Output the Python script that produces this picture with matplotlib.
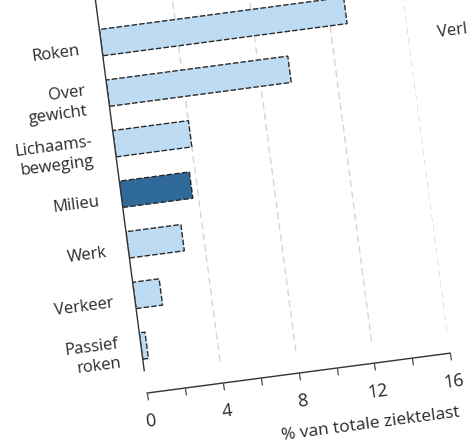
import matplotlib
matplotlib.use("Agg")
import matplotlib.pyplot as plt
from matplotlib.transforms import Affine2D
import mpl_toolkits.axisartist.floating_axes as floating_axes
from mpl_toolkits.axisartist.grid_finder import FixedLocator, DictFormatter

plt.rcParams["font.family"] = ["Open Sans", "DejaVu Sans"]

categories = ["Roken", "Over\ngewicht", "Lichaams-\nbeweging", "Milieu", "Werk", "Verkeer", "Passief\nroken"]
values = [12.9, 9.6, 4.0, 3.7, 2.9, 1.4, 0.3]
highlight = "Milieu"
x_ticks = [0, 2, 4, 6, 8, 10, 12, 14, 16]
x_ticklabels = {0: "0", 4: "4", 8: "8", 12: "12", 16: "16"}
grid_at = [4, 8, 12, 16]
xlabel = "% van totale ziektelast"

W, H = 467, 441
ANGLE = 7.5          # the photographed chart is tilted
AXIS_Y = -0.93       # offset x axis below the bars
TOP_Y = 7.3

fig = plt.figure(figsize=(W / 100, H / 100), dpi=100)

# data -> figure pixels (y up)
tr = Affine2D().scale(19.1, 51).rotate_deg(ANGLE).translate(141, 95)
grid_helper = floating_axes.GridHelperCurveLinear(
    tr,
    extremes=(0, 16, AXIS_Y, TOP_Y),
    grid_locator1=FixedLocator(x_ticks),
    tick_formatter1=DictFormatter(x_ticklabels),
    grid_locator2=FixedLocator([]),
)
ax = fig.add_axes([0, 0, 1, 1], axes_class=floating_axes.FloatingAxes, grid_helper=grid_helper)
ax.set_xlim(0, W)
ax.set_ylim(0, H)
for s in ax.spines.values():
    s.set_visible(False)
for side in ["left", "right", "top"]:
    ax.axis[side].set_visible(False)

bottom = ax.axis["bottom"]
bottom.line.set_color("#333333")
bottom.line.set_linewidth(1.0)
bottom.major_ticks.set_tick_out(True)
bottom.major_ticks.set_ticksize(5)
bottom.major_ticks.set_color("#333333")
bottom.major_ticklabels.set_fontsize(13)
bottom.major_ticklabels.set_color("#2a2a2a")
bottom.major_ticklabels.set_pad(10)

aux = ax.get_aux_axes(tr)
aux.patch = ax.patch
ax.patch.zorder = 0.9

y_pos = list(range(len(categories) - 1, -1, -1))
colors = ["#306a9a" if c == highlight else "#bddcf4" for c in categories]

aux.vlines(grid_at, -0.5, TOP_Y, colors="#d6d6d6", linestyles=(0, (5, 3)), linewidth=1.0, zorder=1)
aux.barh(y_pos, values, height=0.52, color=colors, edgecolor="#2a2a2a",
         linewidth=1.0, linestyle=(0, (4, 1.5)), zorder=2)
aux.vlines(0, -0.5, TOP_Y, colors="#333333", linewidth=1.0, zorder=3, clip_on=False)

for y, label in zip(y_pos, categories):
    aux.text(-1.15, y - 0.1, label, ha="right", va="center", multialignment="right",
             rotation=ANGLE, rotation_mode="anchor", fontsize=12, linespacing=1.3,
             color="#2a2a2a", clip_on=False)

aux.text(16.1, -2.11, xlabel, ha="right", va="center", rotation=ANGLE,
         rotation_mode="anchor", fontsize=12.5, color="#2a2a2a", clip_on=False)

# piece of the neighbouring chart's label, cut off by the photo edge
fig.text(437 / W, 1 - 33 / H, "Verl", ha="left", va="center", rotation=ANGLE,
         rotation_mode="anchor", fontsize=12, color="#2a2a2a")

fig.savefig("out.png", dpi=100)
plt.close(fig)
